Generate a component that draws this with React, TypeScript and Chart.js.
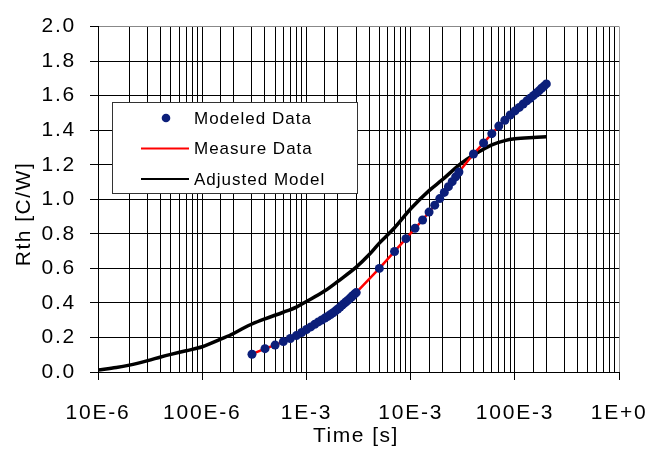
import { useEffect, useRef } from "react";
import { Chart, registerables } from "chart.js";

Chart.register(...registerables);

// ---- Data ----
const modeledTimes = [
  3e-4, 4e-4, 5e-4, 6e-4, 7e-4, 8e-4, 9e-4, 1.0e-3, 1.1e-3, 1.2e-3, 1.3e-3, 1.4e-3,
  1.5e-3, 1.6e-3, 1.7e-3, 1.8e-3, 1.9e-3, 2.0e-3, 2.1e-3, 2.2e-3, 2.3e-3, 2.4e-3,
  2.5e-3, 2.6e-3, 2.7e-3, 2.8e-3, 2.9e-3, 3.0e-3,
  5e-3, 7e-3, 9e-3, 1.1e-2, 1.3e-2, 1.5e-2, 1.7e-2, 1.9e-2, 2.1e-2, 2.3e-2, 2.5e-2,
  2.7e-2, 2.9e-2,
  4e-2, 5e-2, 6e-2, 7e-2, 8e-2, 9e-2, 0.1, 0.11, 0.12, 0.13, 0.14, 0.15, 0.16, 0.17,
  0.18, 0.19, 0.2,
];
const modeledValues = [
  0.103, 0.135, 0.156, 0.176, 0.194, 0.211, 0.229, 0.246, 0.261, 0.276, 0.29, 0.301,
  0.312, 0.322, 0.333, 0.343, 0.354, 0.365, 0.376, 0.387, 0.397, 0.407,
  0.416, 0.425, 0.434, 0.443, 0.452, 0.46,
  0.6, 0.698, 0.772, 0.832, 0.88, 0.926, 0.966, 1.004, 1.04, 1.073, 1.102,
  1.13, 1.158,
  1.262, 1.326, 1.38, 1.424, 1.458, 1.488, 1.512, 1.532, 1.552, 1.57, 1.585, 1.6, 1.615, 1.628,
  1.643, 1.655, 1.668,
];

const measureTimes = [
  3e-4, 4e-4, 5e-4, 6e-4, 7e-4, 8e-4, 9e-4, 1.0e-3, 1.2e-3, 1.4e-3, 1.6e-3, 1.8e-3,
  2.0e-3, 2.2e-3, 2.4e-3, 2.6e-3, 2.8e-3, 3.0e-3,
  5e-3, 7e-3, 9e-3, 1.1e-2, 1.3e-2, 1.5e-2, 1.7e-2, 1.9e-2, 2.1e-2, 2.3e-2, 2.5e-2,
  2.7e-2, 2.9e-2,
  4e-2, 5e-2, 6e-2, 7e-2, 8e-2, 9e-2, 0.1, 0.12, 0.14, 0.16, 0.18, 0.2,
];
const measureValues = [
  0.103, 0.135, 0.156, 0.176, 0.194, 0.211, 0.229, 0.246, 0.276, 0.301, 0.322, 0.343,
  0.365, 0.387, 0.407, 0.425, 0.443, 0.46,
  0.6, 0.698, 0.772, 0.832, 0.88, 0.926, 0.966, 1.004, 1.04, 1.073, 1.102,
  1.13, 1.158,
  1.262, 1.326, 1.38, 1.424, 1.458, 1.488, 1.512, 1.552, 1.585, 1.615, 1.643, 1.668,
];

const modelTimes = [
  1e-5, 1.5e-5, 2e-5, 3e-5, 4e-5, 5e-5, 7e-5, 1e-4, 1.5e-4, 2e-4, 2.5e-4, 3e-4, 4e-4,
  6e-4, 8e-4, 1e-3, 1.5e-3, 2e-3, 3e-3, 4e-3, 5e-3, 7e-3, 1e-2, 1.5e-2, 2e-2, 3e-2,
  4e-2, 6e-2, 8e-2, 0.1, 0.15, 0.2,
];
const modelValues = [
  0.012, 0.026, 0.04, 0.066, 0.087, 0.102, 0.123, 0.146, 0.19, 0.223, 0.255, 0.278,
  0.308, 0.346, 0.376, 0.408, 0.47, 0.525, 0.607, 0.68, 0.746, 0.835, 0.945, 1.05,
  1.112, 1.205, 1.256, 1.315, 1.34, 1.35, 1.358, 1.362,
];

const xDecades = [1e-5, 1e-4, 1e-3, 1e-2, 1e-1, 1];
const xTickLabels = ["10E-6", "100E-6", "1E-3", "10E-3", "100E-3", "1E+0"];
const yMin = 0;
const yMax = 2;
const yStep = 0.2;

const xTitle = "Time [s]";
const yTitle = "Rth [C/W]";
const seriesLabels = ["Modeled Data", "Measure Data", "Adjusted Model"];

const FONT = "'Liberation Sans', Arial, sans-serif";
const NAVY = "#0C1F7A";

function decadeIndex(v: number): number {
  const l = Math.log10(v);
  for (let i = 0; i < xDecades.length; i++) {
    if (Math.abs(l - Math.log10(xDecades[i])) < 1e-6) return i;
  }
  return -1;
}

const textPlugin = {
  id: "customText",
  beforeDraw(chart: any) {
    (chart.ctx as any).letterSpacing = "1.8px";
  },
  afterDraw(chart: any) {
    const ctx = chart.ctx as CanvasRenderingContext2D & { letterSpacing: string };
    ctx.save();
    // axis titles
    ctx.fillStyle = "#000";
    ctx.textAlign = "center";
    ctx.textBaseline = "middle";
    ctx.letterSpacing = "1.5px";
    ctx.font = `21px ${FONT}`;
    ctx.fillText(xTitle, 356, 436);
    ctx.save();
    ctx.translate(24, 214);
    ctx.rotate(-Math.PI / 2);
    ctx.fillText(yTitle, 0, 0);
    ctx.restore();

    // legend box
    const bx = 112, by = 102, bw = 245, bh = 91;
    ctx.fillStyle = "#fff";
    ctx.fillRect(bx, by, bw, bh);
    ctx.strokeStyle = "#333";
    ctx.lineWidth = 1;
    ctx.strokeRect(bx + 0.5, by + 0.5, bw, bh);

    const ds = chart.data.datasets;
    const rows = [118, 148.5, 179];
    ctx.font = `17px ${FONT}`;
    ctx.letterSpacing = "1px";
    ctx.textAlign = "left";
    ctx.textBaseline = "middle";
    for (let i = 0; i < ds.length; i++) {
      const y = rows[i];
      if (i === 0) {
        ctx.fillStyle = ds[i].pointBackgroundColor;
        ctx.beginPath();
        ctx.arc(166, y, 4.3, 0, Math.PI * 2);
        ctx.fill();
      } else {
        ctx.strokeStyle = ds[i].borderColor;
        ctx.lineWidth = 2;
        ctx.beginPath();
        ctx.moveTo(141, y);
        ctx.lineTo(189, y);
        ctx.stroke();
      }
      ctx.fillStyle = "#000";
      ctx.fillText(ds[i].label, 194, y + 1);
    }
    ctx.restore();
  },
};

export default function App() {
  const canvasRef = useRef<HTMLCanvasElement | null>(null);

  useEffect(() => {
    const canvas = canvasRef.current;
    if (!canvas) return;
    const chart = new Chart(canvas, {
      type: "scatter",
      data: {
        datasets: [
          {
            label: seriesLabels[0],
            data: modeledTimes.map((t, i) => ({ x: t, y: modeledValues[i] })),
            showLine: false,
            pointRadius: 4.5,
            pointBackgroundColor: NAVY,
            pointBorderWidth: 0,
            pointBorderColor: NAVY,
          },
          {
            label: seriesLabels[1],
            data: measureTimes.map((t, i) => ({ x: t, y: measureValues[i] })),
            showLine: true,
            borderColor: "#FF0000",
            borderWidth: 2.5,
            pointRadius: 0,
            tension: 0,
          },
          {
            label: seriesLabels[2],
            data: modelTimes.map((t, i) => ({ x: t, y: modelValues[i] })),
            showLine: true,
            borderColor: "#000000",
            borderWidth: 3.5,
            pointRadius: 0,
            cubicInterpolationMode: "monotone",
          },
        ] as any,
      },
      options: {
        responsive: false,
        animation: false,
        events: [],
        layout: { padding: { left: 0, right: 44, top: 18, bottom: 0 } },
        plugins: {
          legend: { display: false },
          tooltip: { enabled: false },
        },
        scales: {
          x: {
            type: "logarithmic",
            min: 1e-5,
            max: 1,
            afterFit: (s: any) => {
              s.height = 79;
            },
            border: { display: true, color: "#000", width: 1 },
            grid: {
              color: (c: any) => (c.tick && Math.abs(c.tick.value - 1) < 1e-9 ? "#999" : "#000"),
              lineWidth: 1,
              drawTicks: true,
              tickLength: 8,
              tickColor: (c: any) =>
                c.tick && decadeIndex(c.tick.value) >= 0 ? "#000" : "rgba(0,0,0,0)",
            },
            ticks: {
              autoSkip: false,
              maxRotation: 0,
              minRotation: 0,
              padding: 21,
              color: "#000",
              font: { family: FONT, size: 21 },
              callback: (v: any) => {
                const i = decadeIndex(Number(v));
                return i >= 0 ? xTickLabels[i] : "";
              },
            },
          },
          y: {
            type: "linear",
            min: yMin,
            max: yMax,
            afterFit: (s: any) => {
              s.width = 98;
            },
            border: { display: true, color: "#000", width: 1 },
            grid: {
              color: (c: any) => (c.tick && Math.abs(c.tick.value - yMax) < 1e-9 ? "#888" : "#000"),
              lineWidth: 1,
              drawTicks: true,
              tickLength: 8,
              tickColor: "#000",
            },
            ticks: {
              stepSize: yStep,
              padding: 14,
              color: "#000",
              font: { family: FONT, size: 21 },
              callback: (v: any) => Number(v).toFixed(1),
            },
          },
        },
      } as any,
      plugins: [textPlugin],
    });
    return () => chart.destroy();
  }, []);

  return (
    <div style={{ position: "absolute", left: 0, top: 0, width: 665, height: 451, background: "#fff" }}>
      <canvas ref={canvasRef} width={665} height={451} style={{ display: "block" }} />
    </div>
  );
}
